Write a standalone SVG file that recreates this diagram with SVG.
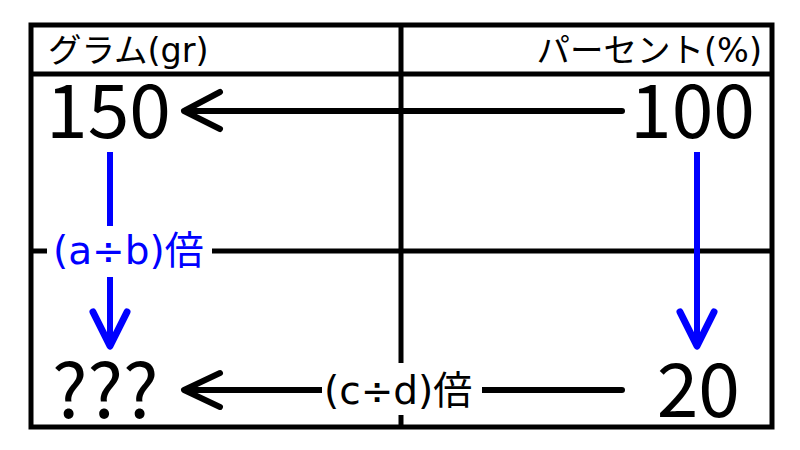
<svg xmlns="http://www.w3.org/2000/svg" width="800" height="450" viewBox="0 0 800 450">
<style>
.grid{stroke:#000;stroke-width:5;fill:none}
.arr{stroke:#000;stroke-width:6;fill:none;stroke-linecap:round;stroke-linejoin:round}
.barr{stroke:#0000ff;stroke-width:6;fill:none;stroke-linecap:butt;stroke-linejoin:round}
.bhead{stroke:#0000ff;stroke-width:7;fill:none;stroke-linecap:round;stroke-linejoin:round}
.hdr{font-family:"DejaVu Sans","Noto Sans CJK JP",sans-serif;font-size:33.5px;fill:#000}
.num{font-family:"Noto Sans CJK JP",sans-serif;font-size:75px;fill:#000}
.lbl{font-family:"DejaVu Sans","Noto Sans CJK JP",sans-serif;font-size:39px}
.bg{fill:#fff}
</style>
<rect width="800" height="450" fill="#fff"/>
<g id="table">
<rect class="grid" x="31" y="25" width="741" height="402"/>
<line class="grid" x1="31" y1="74" x2="772" y2="74"/>
<line class="grid" x1="401" y1="25" x2="401" y2="427"/>
<line class="grid" x1="31" y1="251" x2="772" y2="251"/>
</g>
<g id="header-gram"><text class="hdr" x="48" y="62">グラム(gr)</text></g>
<g id="header-percent"><text class="hdr" x="762" y="62" text-anchor="end">パーセント(%)</text></g>
<g id="n150"><text class="num" x="46" y="138">150</text></g>
<g id="n100"><text class="num" x="755" y="138" text-anchor="end">100</text></g>
<g id="nq"><text class="num" x="52" y="418">???</text></g>
<g id="n20"><text class="num" x="740" y="417" text-anchor="end">20</text></g>
<g id="connectors">
<line class="arr" x1="622" y1="111" x2="186" y2="111"/>
<polyline class="arr" points="220,92 184,111 220,129"/>
<line class="barr" x1="110" y1="152" x2="110" y2="344"/>
<polyline class="bhead" points="93,312 110,346 127,312"/>
<line class="barr" x1="697" y1="152" x2="697" y2="344"/>
<polyline class="bhead" points="680,312 697,346 714,312"/>
<line class="arr" x1="622" y1="390" x2="186" y2="390"/>
<polyline class="arr" points="220,373 184,390 220,407"/>
</g>
<g id="label-ab">
<rect class="bg" x="47" y="226" width="165" height="51"/>
<text class="lbl" x="53" y="264" fill="#0000ff">(a÷b)倍</text>
</g>
<g id="label-cd">
<rect class="bg" x="322" y="363" width="160" height="52"/>
<text class="lbl" x="324" y="404" fill="#000">(c÷d)倍</text>
</g>
</svg>
